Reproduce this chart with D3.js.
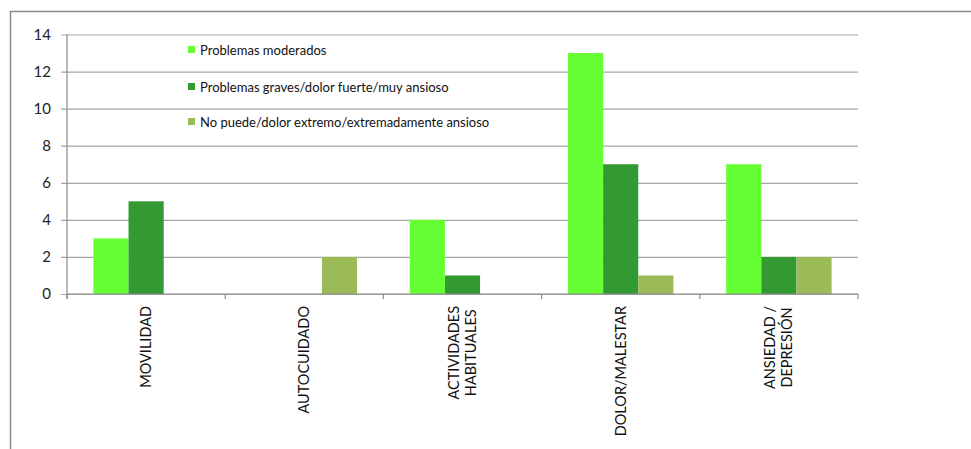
<!DOCTYPE html>
<html>
<head>
<meta charset="utf-8">
<script src="https://cdn.jsdelivr.net/npm/d3@7"></script>
<style>
  html, body { margin: 0; padding: 0; background: #fff; }
  svg { display: block; font-family: Lato, "Open Sans", sans-serif; }
</style>
</head>
<body>
<svg id="chart" width="971" height="449"></svg>
<script>
// Dimension labels (multi-line labels split on "\n")
const categories = ["MOVILIDAD", "AUTOCUIDADO", "ACTIVIDADES\nHABITUALES", "DOLOR/MALESTAR", "ANSIEDAD /\nDEPRESIÓN"];
const seriesNames = [
  "Problemas moderados",
  "Problemas graves/dolor fuerte/muy ansioso",
  "No puede/dolor extremo/extremadamente ansioso"
];
const moderados = [3, 0, 4, 13, 7];
const graves = [5, 0, 1, 7, 2];
const extremos = [0, 2, 0, 1, 2];
const yTicks = [0, 2, 4, 6, 8, 10, 12, 14];
const colors = ["#66ff33", "#339933", "#9bbb59"];

const series = [moderados, graves, extremos];

const svg = d3.select("#chart");
const plotLeft = 67, plotRight = 858, plotTop = 34.5, plotBottom = 294;

// Outer chart frame (extends past the right and bottom edges)
svg.append("path")
  .attr("d", "M10.5,460 V11.5 H980")
  .attr("fill", "none")
  .attr("stroke", "#8c8c8c")
  .attr("stroke-width", 1.5);

const x = d3.scaleBand().domain(d3.range(categories.length)).range([plotLeft, plotRight]).paddingInner(0).paddingOuter(0);
const bandW = x.bandwidth();
const xInner = d3.scaleBand().domain(d3.range(series.length))
  .range([0, bandW]).paddingInner(0).paddingOuter(0.75);
const y = d3.scaleLinear().domain([0, 14]).range([plotBottom, plotTop]);

// Horizontal gridlines with outward ticks
const yAxis = d3.axisLeft(y).tickValues(yTicks).tickSize(-(plotRight - plotLeft)).tickPadding(16).tickFormat(d3.format("d"));
const gy = svg.append("g").attr("transform", `translate(${plotLeft},0)`).call(yAxis);
gy.select(".domain").remove();
gy.selectAll(".tick line")
  .attr("x1", -6)
  .attr("stroke", "#a6a6a6")
  .attr("stroke-width", 1.2);
gy.selectAll(".tick text")
  .attr("font-size", 15)
  .attr("fill", "#222")
  .attr("font-family", "Lato, sans-serif");

// Vertical axis line
svg.append("line")
  .attr("x1", plotLeft).attr("x2", plotLeft)
  .attr("y1", plotTop).attr("y2", plotBottom + 5)
  .attr("stroke", "#8c8c8c").attr("stroke-width", 1.2);

// Bars
const groups = svg.append("g").selectAll("g")
  .data(series)
  .join("g")
  .attr("fill", (d, i) => colors[i]);
groups.each(function(vals, si) {
  d3.select(this).selectAll("rect")
    .data(vals)
    .join("rect")
    .attr("x", (v, ci) => x(ci) + xInner(si))
    .attr("width", xInner.bandwidth())
    .attr("y", v => y(v))
    .attr("height", v => y(0) - y(v));
});

// Category axis line and boundary ticks
svg.append("line")
  .attr("x1", plotLeft).attr("x2", plotRight)
  .attr("y1", plotBottom).attr("y2", plotBottom)
  .attr("stroke", "#8c8c8c").attr("stroke-width", 1.2);
const bounds = d3.range(categories.length + 1).map(i => i < categories.length ? x(i) : plotRight);
svg.append("g").selectAll("line")
  .data(bounds)
  .join("line")
  .attr("x1", d => d).attr("x2", d => d)
  .attr("y1", plotBottom).attr("y2", plotBottom + 5)
  .attr("stroke", "#8c8c8c").attr("stroke-width", 1.2);

// Rotated category labels
const labelTop = 306, lineH = 17;
categories.forEach((c, i) => {
  const lines = c.split("\n");
  const cx = x(i) + bandW / 2;
  const g = svg.append("g").attr("transform", `translate(${cx},${labelTop}) rotate(-90)`);
  const texts = lines.map((ln, j) => g.append("text")
    .text(ln)
    .attr("text-anchor", "middle")
    .attr("dy", "0.35em")
    .attr("y", (j - (lines.length - 1) / 2) * lineH)
    .attr("font-size", 14.5)
    .attr("fill", "#111"));
  const maxW = d3.max(texts, t => t.node().getComputedTextLength());
  texts.forEach(t => t.attr("x", -maxW / 2));
});

// Legend
const legendY = [50, 87, 122];
const lg = svg.append("g");
seriesNames.forEach((name, i) => {
  lg.append("rect")
    .attr("x", 188).attr("y", legendY[i] - 4)
    .attr("width", 7).attr("height", 7)
    .attr("fill", colors[i]);
  lg.append("text")
    .attr("x", 200).attr("y", legendY[i])
    .attr("dy", "0.35em")
    .attr("font-size", 13)
    .attr("fill", "#111")
    .text(name);
});
</script>
</body>
</html>
